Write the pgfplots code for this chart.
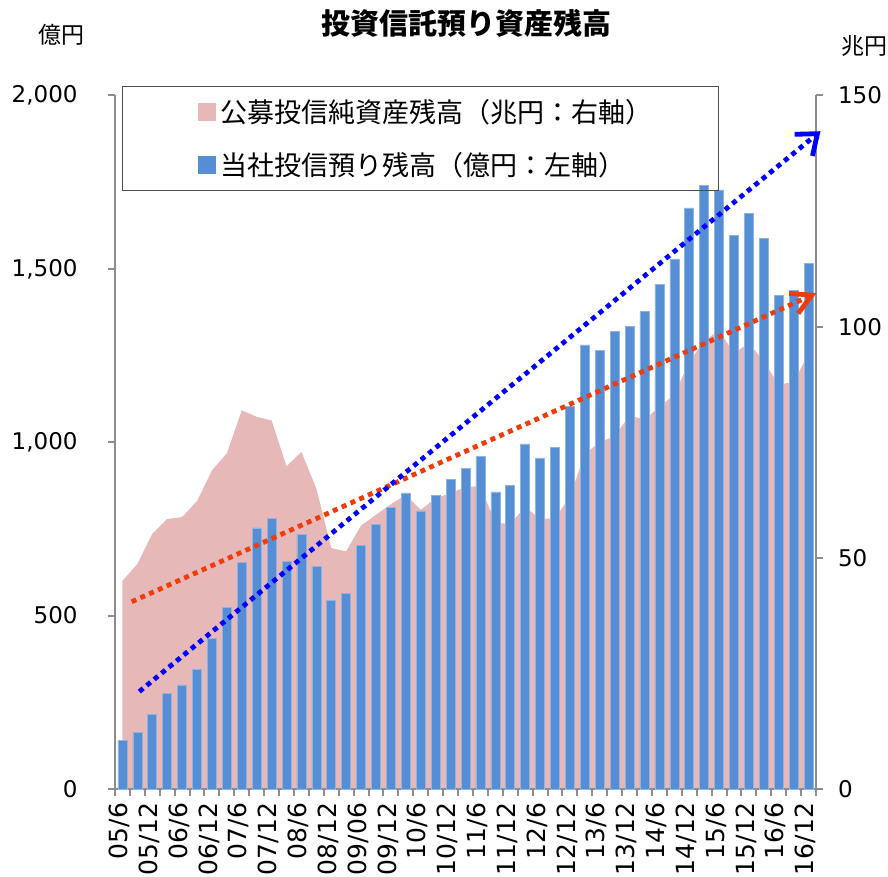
\documentclass[border=0pt]{standalone}
\usepackage{fontspec}
\setmainfont{DejaVu Sans}
\newfontfamily\cjk{Noto Sans CJK JP}
\usepackage{pgfplots}
\usepackage{pgfplotstable}
\pgfplotsset{compat=1.18}
\usetikzlibrary{arrows.meta}
\definecolor{barblue}{HTML}{558ED5}
\definecolor{baredge}{HTML}{8DB4E2}
\definecolor{areapink}{HTML}{E6B9B8}
\definecolor{axisgray}{HTML}{8C8C8C}
\definecolor{trendred}{HTML}{F03C0A}
\definecolor{trendblue}{HTML}{0000FF}

\pgfplotstableread{
x bar area
0 141 45.0
1 164 48.7
2 215 55.2
3 275 58.4
4 300 58.8
5 344 62.3
6 434 68.9
7 523 72.6
8 653 81.9
9 753 80.5
10 781 79.7
11 656 69.8
12 735 72.9
13 643 65.0
14 543 52.1
15 564 51.4
16 703 57.0
17 762 59.3
18 811 61.6
19 854 63.6
20 802 60.4
21 847 62.9
22 893 64.0
23 925 65.3
24 959 65.5
25 857 57.6
26 876 57.3
27 995 61.1
28 955 58.3
29 985 58.6
30 1104 63.2
31 1281 72.5
32 1265 75.0
33 1320 76.3
34 1333 80.8
35 1377 79.9
36 1456 82.6
37 1529 85.3
38 1676 92.4
39 1741 96.9
40 1728 99.2
41 1597 94.2
42 1659 96.5
43 1589 92.4
44 1424 87.5
45 1438 88.0
46 1516 94.2
}\datatable

\begin{document}
\begin{tikzpicture}
\useasboundingbox (-57.5pt,-44pt) rectangle (386.5pt,394.5pt);
% right axis: area
\begin{axis}[
  at={(0pt,0pt)}, anchor=south west,
  scale only axis, width=350.5pt, height=346.75pt,
  xmin=-0.5, xmax=46.5, ymin=0, ymax=150,
  hide x axis, axis y line*=right,
  ytick={0,50,100,150},
  tick align=outside, major tick length=3.5pt,
  y axis line style={axisgray, line width=1pt},
  ytick style={axisgray, line width=1pt},
  yticklabel style={font=\fontsize{11.5}{13}\selectfont, xshift=4pt},
  /pgf/number format/assume math mode=true,
]
\addplot[fill=areapink, draw=none] table[x=x,y=area]{\datatable} \closedcycle;
\end{axis}
% left axis: bars
\begin{axis}[
  at={(0pt,0pt)}, anchor=south west,
  scale only axis, width=350.5pt, height=346.75pt,
  xmin=-0.5, xmax=46.5, ymin=0, ymax=2000,
  axis x line*=bottom, axis y line*=left,
  ytick={0,500,1000,1500,2000},
  xtick={0,2,...,46},
  xticklabels={05/6,05/12,06/6,06/12,07/6,07/12,08/6,08/12,09/06,09/12,10/6,10/12,11/6,11/12,12/6,12/12,13/6,13/12,14/6,14/12,15/6,15/12,16/6,16/12},
  minor xtick={-0.5,0.5,...,46.5},
  every major x tick/.append style={draw=none},
  tick align=outside, major tick length=3.5pt, minor tick length=3.5pt,
  axis line style={axisgray, line width=1pt},
  tick style={axisgray, line width=1pt},
  xticklabel style={rotate=90, anchor=east, font=\fontsize{12.5}{14}\selectfont, yshift=1.5pt},
  yticklabel style={font=\fontsize{11.5}{13}\selectfont, xshift=-11.7pt},
  /pgf/number format/1000 sep={,},
  /pgf/number format/assume math mode=true,
  clip=false,
  legend image code/.code={\path (0pt,0pt) (16pt,0pt); \fill[#1] (6.5pt,-4.5pt) rectangle (15.5pt,4.5pt);},
  legend style={at={(0.0096,1.0141)}, anchor=north west, draw=black!70, fill=none, line width=0.75pt,
    inner xsep=31.5pt, inner ysep=4.75pt, row sep=10.5pt,
    nodes={inner sep=1.5pt},
    font=\cjk\fontsize{13.5}{15}\selectfont},
  legend cell align=left,
]
\addlegendimage{fill=areapink, draw=none}
\addlegendentry{公募投信純資産残高（兆円：右軸）}
\addlegendimage{fill=barblue, draw=none}
\addlegendentry{当社投信預り残高（億円：左軸）}
\addplot[ybar, bar width=4.5pt, fill=barblue, draw=baredge, line width=0.3pt, forget plot] table[x=x,y=bar]{\datatable};
\addplot[trendred, line width=2.4pt, dash pattern=on 2.5pt off 2.3pt, line cap=butt,
  -{Straight Barb[length=10pt, width=11pt, line width=2.4pt]}, forget plot]
  coordinates {(0.62,540) (46.53,1430)};
\addplot[trendblue, line width=2.4pt, dash pattern=on 2.5pt off 2.3pt, line cap=butt,
  -{Straight Barb[length=9pt, width=14pt, line width=2.4pt]}, forget plot]
  coordinates {(1.13,281) (46.8,1897)};
\node[font=\cjk\bfseries\fontsize{14.5}{16}\selectfont] at (rel axis cs:0.502,1.1045) {投資信託預り資産残高};
\node[font=\cjk\fontsize{11.5}{13}\selectfont] at (rel axis cs:-0.0756,1.087) {億円};
\node[font=\cjk\fontsize{11.5}{13}\selectfont] at (rel axis cs:1.0685,1.0714) {兆円};
\end{axis}
\end{tikzpicture}
\end{document}
